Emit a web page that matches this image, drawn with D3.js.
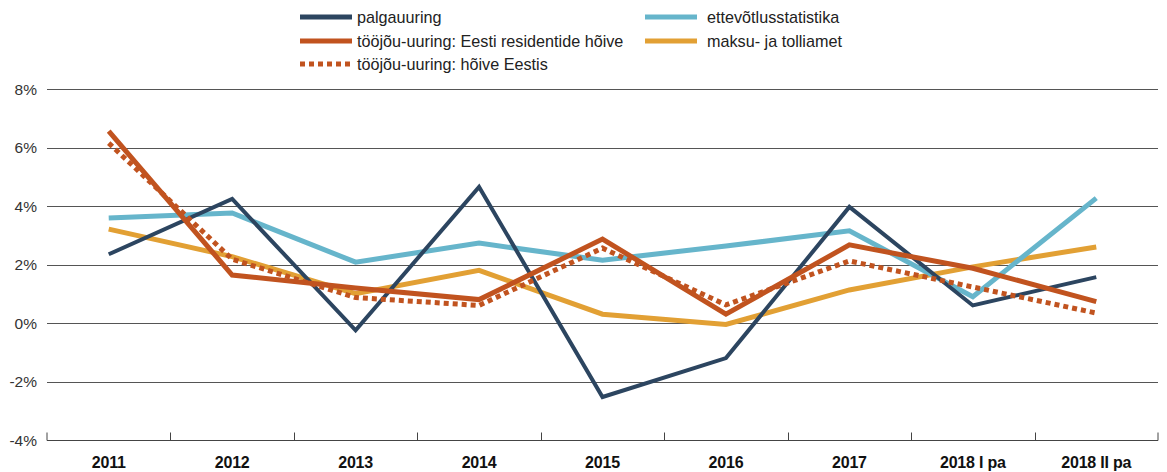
<!DOCTYPE html>
<html>
<head>
<meta charset="utf-8">
<script src="https://cdn.jsdelivr.net/npm/d3@7"></script>
<style>
  body { margin: 0; background: #fff; }
  svg { display: block; font-family: "Liberation Sans", Arial, sans-serif; }
</style>
</head>
<body>
<svg id="chart" width="1167" height="472"></svg>
<script>
// categories and series values (%)
const periods = ['2011', '2012', '2013', '2014', '2015', '2016', '2017', '2018 I pa', '2018 II pa'];
const palgauuring = [2.35, 4.24, -0.25, 4.65, -2.53, -1.2, 3.97, 0.6, 1.57];
const ettevotlus = [3.59, 3.76, 2.08, 2.73, 2.15, 2.63, 3.15, 0.9, 4.27];
const residendid = [6.56, 1.64, 1.2, 0.8, 2.87, 0.3, 2.67, 1.87, 0.73];
const hoiveEestis = [6.15, 2.18, 0.87, 0.6, 2.56, 0.62, 2.12, 1.23, 0.34];
const maksuamet = [3.21, 2.27, 1.0, 1.8, 0.3, -0.05, 1.13, 1.92, 2.6];
const yTicks = [-4, -2, 0, 2, 4, 6, 8];

const series = [
    { name: 'palgauuring', values: palgauuring, color: '#2c4560', width: 4, dash: null },
    { name: 'ettevõtlusstatistika', values: ettevotlus, color: '#66b5cb', width: 5, dash: null },
    { name: 'tööjõu-uuring: Eesti residentide hõive', values: residendid, color: '#c1531f', width: 5, dash: null },
    { name: 'maksu- ja tolliamet', values: maksuamet, color: '#e2a034', width: 5, dash: null },
    { name: 'tööjõu-uuring: hõive Eestis', values: hoiveEestis, color: '#c1531f', width: 5, dash: '5,4' }
];

const svg = d3.select('#chart');
const plotLeft = 47, plotRight = 1158, plotTop = 89, plotBottom = 440;

const x = d3.scaleBand().domain(periods).range([plotLeft, plotRight]);
const y = d3.scaleLinear().domain([-4, 8]).range([plotBottom, plotTop]);

// gridlines
svg.append('g')
    .selectAll('line')
    .data(yTicks.filter(t => t > -4))
    .enter()
    .append('line')
    .attr('x1', plotLeft)
    .attr('x2', plotRight)
    .attr('y1', d => Math.round(y(d)) + 0.5)
    .attr('y2', d => Math.round(y(d)) + 0.5)
    .attr('stroke', '#555')
    .attr('stroke-width', 1);

// y labels
svg.append('g')
    .selectAll('text')
    .data(yTicks)
    .enter()
    .append('text')
    .attr('x', 37)
    .attr('y', d => y(d) + 5.5)
    .attr('text-anchor', 'end')
    .attr('font-size', 15.5)
    .attr('fill', '#333')
    .text(d => d + '%');

// x axis line with ticks at band edges
const xAxis = d3.axisBottom(x).tickSize(0).tickPadding(16);
const axisG = svg.append('g')
    .attr('transform', `translate(0,${Math.round(plotBottom) + 0.5})`)
    .call(xAxis);
axisG.select('.domain').attr('stroke', '#444').attr('d', `M${plotLeft},-8V0H${plotRight}V-8`);
axisG.selectAll('text')
    .attr('font-size', 16)
    .attr('font-weight', 'bold')
    .attr('letter-spacing', -0.2)
    .attr('fill', '#111')
    .attr('font-family', '"Liberation Sans", Arial, sans-serif');

const edges = periods.slice(1).map(p => x(p));
svg.append('g')
    .selectAll('line')
    .data(edges)
    .enter()
    .append('line')
    .attr('x1', d => Math.round(d) + 0.5)
    .attr('x2', d => Math.round(d) + 0.5)
    .attr('y1', Math.round(plotBottom) + 0.5)
    .attr('y2', Math.round(plotBottom) - 7.5)
    .attr('stroke', '#444');

// lines
const line = d3.line()
    .x((d, i) => x(periods[i]) + x.bandwidth() / 2)
    .y(d => y(d));

const drawOrder = [series[3], series[1], series[0], series[4], series[2]];
svg.append('g')
    .selectAll('path')
    .data(drawOrder)
    .enter()
    .append('path')
    .attr('d', d => line(d.values))
    .attr('fill', 'none')
    .attr('stroke', d => d.color)
    .attr('stroke-width', d => d.width)
    .attr('stroke-dasharray', d => d.dash)
    .attr('stroke-linejoin', 'miter');

// legend
const legendItems = [
    { s: series[0], x: 300, y: 17 },
    { s: series[1], x: 645, y: 17 },
    { s: series[2], x: 300, y: 41 },
    { s: series[3], x: 645, y: 41 },
    { s: series[4], x: 300, y: 64 }
];
const lg = svg.append('g')
    .selectAll('g')
    .data(legendItems)
    .enter()
    .append('g')
    .attr('transform', d => `translate(${d.x},${d.y})`);
lg.append('line')
    .attr('x1', 0)
    .attr('x2', 52)
    .attr('stroke', d => d.s.color)
    .attr('stroke-width', 5)
    .attr('stroke-dasharray', d => d.s.dash);
lg.append('text')
    .attr('x', d => d.x === 300 ? 57 : 62)
    .attr('y', 6)
    .attr('font-size', 16.2)
    .attr('fill', '#222')
    .text(d => d.s.name);
</script>
</body>
</html>
